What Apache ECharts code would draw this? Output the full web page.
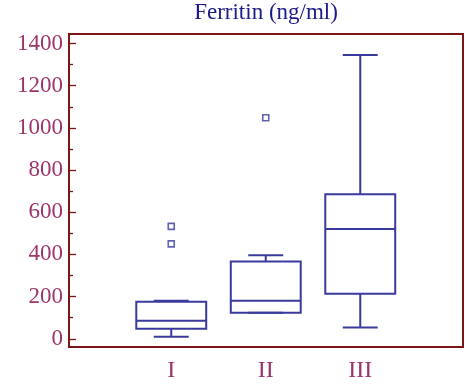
<!DOCTYPE html>
<html>
<head>
<meta charset="utf-8">
<script src="https://cdn.jsdelivr.net/npm/echarts@6/dist/echarts.min.js"></script>
<style>
  html, body { margin: 0; padding: 0; background: #fff; }
  #chart { width: 465px; height: 392px; }
</style>
</head>
<body>
<div id="chart"></div>
<script>
// Ferritin by group: whisker low, Q1, median, Q3, whisker high
const groups = ['I', 'II', 'III'];
const whiskerLow = [10, 123, 54];
const q1 = [48, 123, 214];
const median = [85, 180, 520];
const q3 = [176, 366, 685];
const whiskerHigh = [180, 396, 1345];
// outliers as [group index, value]
const outliers = [[0, 450], [0, 533], [1, 1048]];
const majorTicks = [0, 200, 400, 600, 800, 1000, 1200, 1400];
const minorTicks = [100, 300, 500, 700, 900, 1100, 1300];

const yMin = -39, yMax = 1445;
const boxColor = '#3a3a9e';
const frameColor = '#7a1616';
const labelColor = '#9c356a';
const serif = '"Liberation Serif", "DejaVu Serif", serif';

const boxData = groups.map((g, i) => [i, whiskerLow[i], q1[i], median[i], q3[i], whiskerHigh[i]]);

function renderBox(params, api) {
  const x = api.value(0);
  const lo = api.coord([x, api.value(1)]);
  const b1 = api.coord([x, api.value(2)]);
  const md = api.coord([x, api.value(3)]);
  const b3 = api.coord([x, api.value(4)]);
  const hi = api.coord([x, api.value(5)]);
  const band = api.size([1, 0])[0];
  const half = band * 0.37;
  const cap = half / 2;
  const cx = md[0];
  const style = { stroke: boxColor, lineWidth: 2, fill: null };
  return {
    type: 'group',
    children: [
      { type: 'line', shape: { x1: cx, y1: hi[1], x2: cx, y2: b3[1] }, style },
      { type: 'line', shape: { x1: cx - cap, y1: hi[1], x2: cx + cap, y2: hi[1] }, style },
      { type: 'line', shape: { x1: cx, y1: b1[1], x2: cx, y2: lo[1] }, style },
      { type: 'line', shape: { x1: cx - cap, y1: lo[1], x2: cx + cap, y2: lo[1] }, style },
      { type: 'rect', shape: { x: cx - half, y: b3[1], width: half * 2, height: b1[1] - b3[1] }, style },
      { type: 'line', shape: { x1: cx - half, y1: md[1], x2: cx + half, y2: md[1] }, style }
    ]
  };
}

const chart = echarts.init(document.getElementById('chart'), null, { renderer: 'canvas' });
chart.setOption({
  animation: false,
  title: {
    text: 'Ferritin (ng/ml)',
    left: 266,
    top: 1,
    padding: 0,
    textAlign: 'center',
    textStyle: { fontFamily: serif, fontSize: 23, fontWeight: 'normal', color: '#1a1a8a' }
  },
  grid: [
    { left: 69, right: 2, top: 34, bottom: 45, show: true, borderColor: frameColor, borderWidth: 2, backgroundColor: 'transparent' },
    { left: 124, right: 57.5, top: 34, bottom: 45 }
  ],
  xAxis: [
    { type: 'value', gridIndex: 0, show: false },
    {
      type: 'category', gridIndex: 1, data: groups,
      axisLine: { show: false }, axisTick: { show: false },
      axisLabel: { fontFamily: serif, fontSize: 24, color: labelColor, margin: 12 }
    }
  ],
  yAxis: [
    {
      type: 'value', gridIndex: 0, min: yMin, max: yMax, position: 'left',
      axisLine: { show: false },
      splitLine: { show: false },
      axisTick: { show: true, inside: true, length: 7, customValues: majorTicks, lineStyle: { color: frameColor, width: 1.3 } },
      axisLabel: {
        customValues: majorTicks, fontFamily: serif, fontSize: 23, color: labelColor, margin: 6,
        formatter: v => String(v)
      }
    },
    {
      type: 'value', gridIndex: 0, min: yMin, max: yMax, position: 'left',
      axisLine: { show: false },
      splitLine: { show: false },
      axisTick: { show: true, inside: true, length: 4, customValues: minorTicks, lineStyle: { color: frameColor, width: 1.3 } },
      axisLabel: { show: false }
    },
    { type: 'value', gridIndex: 1, min: yMin, max: yMax, show: false }
  ],
  series: [
    {
      type: 'custom',
      xAxisIndex: 1,
      yAxisIndex: 2,
      renderItem: renderBox,
      encode: { x: 0, y: [1, 2, 3, 4, 5] },
      data: boxData
    },
    {
      type: 'scatter',
      xAxisIndex: 1,
      yAxisIndex: 2,
      symbol: 'rect',
      symbolSize: 6,
      itemStyle: { color: '#fff', borderColor: boxColor, borderWidth: 1.6 },
      data: outliers
    }
  ]
});
</script>
</body>
</html>
